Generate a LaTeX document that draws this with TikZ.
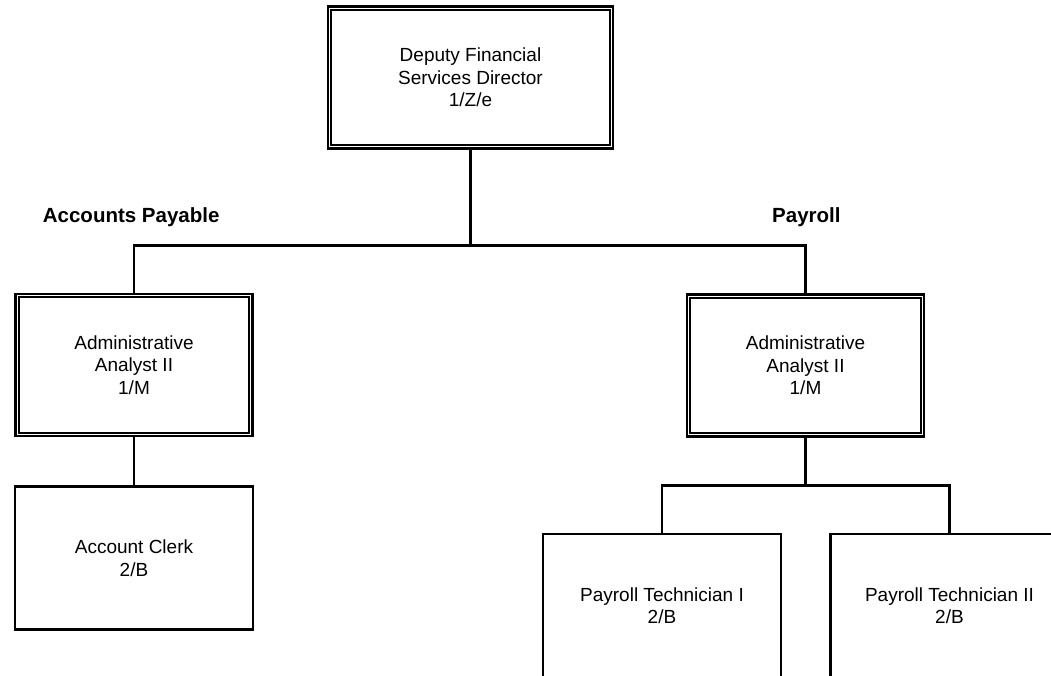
\documentclass[tikz,border=0pt]{standalone}
\usepackage{fontspec}
\setmainfont{Liberation Sans}
\begin{document}
\begin{tikzpicture}[x=1bp,y=-1bp,
  posbox/.style={draw, line width=2.7bp, minimum width=237bp, minimum height=142bp,
    align=center, inner sep=0pt, font=\fontsize{19bp}{22.5bp}\selectfont},
  innerline/.style={line width=1.8bp},
  conn/.style={line width=2.8bp},
  grouplabel/.style={anchor=base west, inner sep=0pt, font=\fontsize{20.5bp}{24bp}\selectfont\bfseries}]
\clip (0,0) rectangle (1051,676);
\useasboundingbox (0,0) rectangle (1051,676);
\fill[white] (0,0) rectangle (1051,676);

\node[posbox, minimum width=285bp] (top) at (470.5,77.5) {Deputy Financial\\Services Director\\1/Z/e};
\node[posbox] (aaL) at (134,365) {Administrative\\Analyst II\\1/M};
\node[posbox] (aaR) at (805.5,365.5) {Administrative\\Analyst II\\1/M};
\node[posbox, minimum width=238bp, minimum height=143bp] (clerk) at (134,558) {Account Clerk\\2/B};
\node[posbox, minimum width=238bp, minimum height=143bp] (t1) at (662,605.5) {Payroll Technician I\\2/B};
\node[posbox, minimum width=238bp, minimum height=143bp] (t2) at (949.5,605.5) {Payroll Technician II\\2/B};

\foreach \n in {top,aaL,aaR}{
  \draw[innerline] ([shift={(4.6bp,-4.6bp)}]\n.north west) rectangle ([shift={(-4.6bp,4.6bp)}]\n.south east);
}

\node[grouplabel] (lap) at (42.7,222) {Accounts Payable};
\node[grouplabel] (lpr) at (772,222) {Payroll};

\coordinate (j1) at (470.5,245.5);
\coordinate (j2) at (805.5,485.5);
\draw[conn] (top.south) -- (j1);
\draw[conn] (aaL.north) |- (j1) -| (aaR.north);
\draw[conn] (aaL.south) -- (clerk.north);
\draw[conn] (aaR.south) -- (j2);
\draw[conn] (t1.north) |- (j2) -| (t2.north);
\end{tikzpicture}
\end{document}
